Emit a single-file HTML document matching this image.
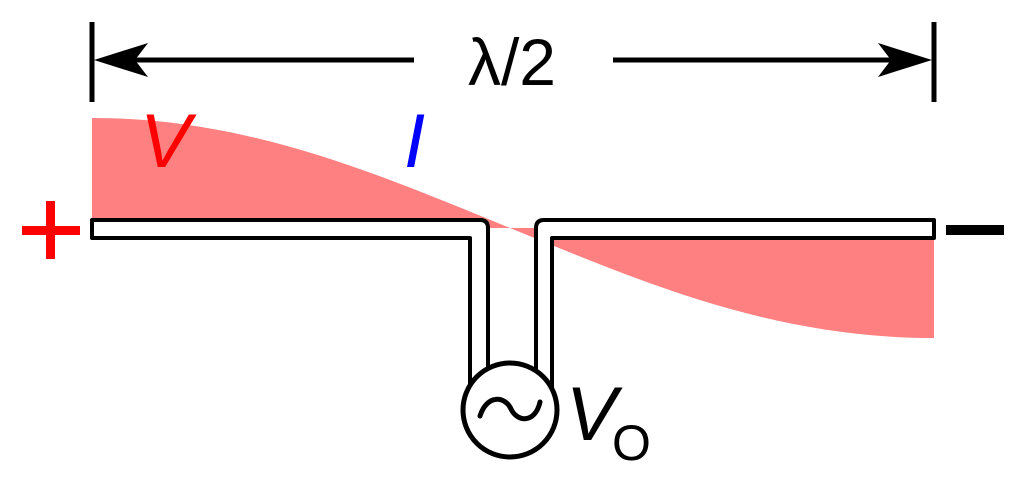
<!DOCTYPE html>
<html><head><meta charset="utf-8"><style>html,body{margin:0;padding:0;background:#fff;}svg{display:block}</style></head>
<body>
<svg width="1024" height="482" viewBox="0 0 1024 482" xmlns="http://www.w3.org/2000/svg">
<path d="M92 118 C250 118 380 175 510 228 L92 228 Z" fill="#ff8080"/>
<path d="M510 228 C640 281 770 338 934 338 L934 228 Z" fill="#ff8080"/>
<g stroke="#000" stroke-width="5" fill="none">
<line x1="92" y1="22" x2="92" y2="102"/>
<line x1="934" y1="22" x2="934" y2="102"/>
<line x1="110" y1="60" x2="414" y2="60"/>
<line x1="613" y1="60" x2="916" y2="60"/>
</g>
<path d="M94 60 L148 43 L135 60 L148 77 Z" fill="#000"/>
<path d="M932 60 L878 43 L891 60 L878 77 Z" fill="#000"/>
<text x="512" y="85" font-family="Liberation Sans, sans-serif" font-size="66" text-anchor="middle">λ/2</text>
<g fill="#fff" stroke="#000" stroke-width="4" stroke-linejoin="round">
<path d="M92 220 H480 Q488 220 488 228 V400 H470 V238 H92 Z"/>
<path d="M552 400 V238 H934 V220 H544 Q536 220 536 228 V400 Z"/>
<circle cx="510" cy="410" r="47" stroke-width="5"/>
</g>
<path d="M480 416 C487 394 505 396 511 409 C517 422 535 424 540 402" fill="none" stroke="#000" stroke-width="5" stroke-linecap="round"/>
<text x="140" y="167" font-family="Liberation Sans, sans-serif" font-style="italic" font-size="76" fill="#ff0000">V</text>
<text x="404" y="167" font-family="Liberation Sans, sans-serif" font-style="italic" font-size="76" fill="#0000ff">I</text>
<rect x="22" y="226" width="58" height="9" fill="#ff0000"/>
<rect x="46" y="201" width="9" height="58" fill="#ff0000"/>
<rect x="946" y="225" width="58" height="10" fill="#000"/>
<text x="566" y="440" font-family="Liberation Sans, sans-serif" font-style="italic" font-size="76">V</text>
<text x="612" y="460" font-family="Liberation Sans, sans-serif" font-size="50">O</text>
</svg>
</body></html>
